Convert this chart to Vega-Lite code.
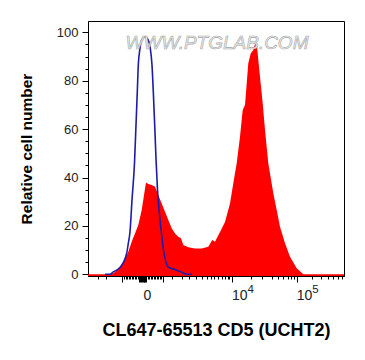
{
  "$schema": "https://vega.github.io/schema/vega-lite/v6.json",
  "width": 256,
  "height": 255,
  "autosize": "none",
  "padding": {"left": 88, "top": 21, "right": 21, "bottom": 84},
  "background": "white",
  "config": {
    "view": {"stroke": "#000000", "strokeWidth": 1},
    "font": "Liberation Sans"
  },
  "datasets": {
    "cd5": [
      {"channel": 0, "count": 0}, {"channel": 20.3, "count": 0}, {"channel": 25.3, "count": 0.4},
      {"channel": 30.3, "count": 2.1}, {"channel": 33.7, "count": 3.8}, {"channel": 37, "count": 6.2},
      {"channel": 40.3, "count": 9.3}, {"channel": 43.7, "count": 13.5}, {"channel": 47, "count": 16.9},
      {"channel": 50.3, "count": 20.4}, {"channel": 53.7, "count": 26.6}, {"channel": 56.3, "count": 33.5},
      {"channel": 58, "count": 37.9}, {"channel": 60.3, "count": 37.3}, {"channel": 63.7, "count": 36.9},
      {"channel": 67, "count": 36.2}, {"channel": 70.3, "count": 32.8}, {"channel": 73.7, "count": 29.3},
      {"channel": 77, "count": 25.9}, {"channel": 80.3, "count": 22.4}, {"channel": 83.7, "count": 19},
      {"channel": 87, "count": 16.9}, {"channel": 90.3, "count": 15.5}, {"channel": 93, "count": 14.9},
      {"channel": 95.3, "count": 12.1}, {"channel": 100.3, "count": 11.2}, {"channel": 107, "count": 10.7},
      {"channel": 113.7, "count": 10.7}, {"channel": 120.3, "count": 11.4}, {"channel": 124.3, "count": 14.2},
      {"channel": 127, "count": 13.5}, {"channel": 132, "count": 17.5}, {"channel": 137, "count": 21.6},
      {"channel": 142, "count": 29.3}, {"channel": 145.3, "count": 37.6}, {"channel": 148.7, "count": 45.9},
      {"channel": 152, "count": 56.9}, {"channel": 154.7, "count": 67.9}, {"channel": 157, "count": 70},
      {"channel": 158.7, "count": 78.9}, {"channel": 160.3, "count": 87.2}, {"channel": 162.7, "count": 91.3},
      {"channel": 165.3, "count": 92.7}, {"channel": 167, "count": 95.2}, {"channel": 168, "count": 95.5},
      {"channel": 169, "count": 94.3}, {"channel": 170.3, "count": 88.6}, {"channel": 172, "count": 81.7},
      {"channel": 174.7, "count": 70.7}, {"channel": 177, "count": 59.6}, {"channel": 180.3, "count": 45.9},
      {"channel": 185.3, "count": 33.5}, {"channel": 188.7, "count": 26.6}, {"channel": 192, "count": 19.7},
      {"channel": 197, "count": 12.8}, {"channel": 202, "count": 7.3}, {"channel": 208.7, "count": 2.5},
      {"channel": 215.3, "count": 0}, {"channel": 256, "count": 0}
    ],
    "ctrl": [
      {"channel": 17, "count": 0}, {"channel": 22, "count": 0}, {"channel": 25.3, "count": 1},
      {"channel": 32, "count": 2.8}, {"channel": 38.7, "count": 8.7}, {"channel": 40.3, "count": 12.8},
      {"channel": 42, "count": 17.6}, {"channel": 44, "count": 30.7}, {"channel": 46.5, "count": 46},
      {"channel": 48, "count": 61.7}, {"channel": 49.3, "count": 75.5}, {"channel": 50.3, "count": 86.5},
      {"channel": 52, "count": 93.4}, {"channel": 53.7, "count": 96.8}, {"channel": 57, "count": 98.2},
      {"channel": 60.3, "count": 96.8}, {"channel": 62.3, "count": 93.4}, {"channel": 64, "count": 86.5},
      {"channel": 65.3, "count": 75.5}, {"channel": 66.7, "count": 61.7}, {"channel": 68, "count": 47.9},
      {"channel": 69.5, "count": 34.8}, {"channel": 71.5, "count": 24.5}, {"channel": 73.7, "count": 16.2},
      {"channel": 75.5, "count": 10}, {"channel": 77, "count": 6.7}, {"channel": 79, "count": 3.8},
      {"channel": 81, "count": 2.8}, {"channel": 87, "count": 2}, {"channel": 93, "count": 1},
      {"channel": 98, "count": 0.1}, {"channel": 104, "count": 0}
    ],
    "wm": [{"channel": 129, "count": 95.6, "text": "WWW.PTGLAB.COM"}]
  },
  "encoding": {
    "y": {
      "field": "count", "type": "quantitative",
      "scale": {"domain": [-0.7, 104.7], "nice": false, "zero": false},
      "axis": {
        "values": [0, 5, 10, 15, 20, 25, 30, 35, 40, 45, 50, 55, 60, 65, 70, 75, 80, 85, 90, 95, 100],
        "labelExpr": "datum.value % 20 == 0 ? datum.label : ''",
        "labelFontSize": 13,
        "labelColor": "#222222",
        "labelPadding": 4,
        "tickColor": "#000000",
        "tickSize": {"condition": {"test": "datum.value % 20 == 0", "value": 6}, "value": 3},
        "domainColor": "#000000",
        "grid": false,
        "title": "Relative cell number",
        "titleFontSize": 15.5,
        "titleFontWeight": "bold",
        "titleColor": "#000000",
        "titlePadding": 22
      }
    }
  },
  "resolve": {"axis": {"x": "independent"}},
  "layer": [
    {
      "data": {"name": "cd5"},
      "mark": {"type": "area", "color": "#ff0000", "interpolate": "linear", "clip": true},
      "encoding": {
        "x": {
          "field": "channel", "type": "quantitative",
          "scale": {"domain": [0, 256], "nice": false, "zero": false},
          "axis": {
            "orient": "bottom",
            "values": [10.3, 18, 33.7, 36, 37.5, 39, 40.5, 42, 43.5, 45, 46.5, 48, 49.5, 50.5, 51.5, 52.5, 53.5, 54.5, 55.5, 56, 57, 58, 59.5, 61, 62.5, 64, 65.5, 67, 68.5, 70, 71.5, 73, 75, 84, 93.7, 101, 108, 113.7, 118.7, 123, 126, 129.7, 133.7, 137, 139.7, 141.3, 144.4, 162.7, 173.7, 183.7, 190.3, 195.3, 199.7, 203, 206.3, 209.3, 223.7, 233, 240, 245, 249.7, 253.7],
            "labelExpr": "datum.value == 56 ? '0' : datum.value == 144.4 ? '10' : datum.value == 209.3 ? '10' : ''",
            "labelAlign": "left",
            "labelOffset": -1,
            "labelFontSize": 14,
            "labelColor": "#222222",
            "labelPadding": 6,
            "labelOverlap": false,
            "labelFlush": false,
            "tickColor": "#000000",
            "tickSize": {"condition": {"test": "(datum.value >= 50 && datum.value <= 58) || datum.value == 33.7 || datum.value == 75 || datum.value == 144.4 || datum.value == 209.3", "value": 6}, "value": 3},
            "domainColor": "#000000",
            "grid": false,
            "title": "CL647-65513 CD5 (UCHT2)",
            "titleFontSize": 18,
            "titleFontWeight": "bold",
            "titleColor": "#000000",
            "titlePadding": 19
          }
        },
        "y2": {"datum": -0.7}
      }
    },
    {
      "data": {"name": "ctrl"},
      "mark": {"type": "line", "color": "#1c1ca8", "strokeWidth": 1.6, "interpolate": "monotone", "clip": true},
      "encoding": {
        "x": {
          "field": "channel", "type": "quantitative",
          "scale": {"domain": [0, 256], "nice": false, "zero": false},
          "axis": {
            "orient": "bottom",
            "values": [144.4, 209.3],
            "labelExpr": "datum.value == 144.4 ? '4' : '5'",
            "labelAlign": "left",
            "labelOffset": 14.5,
            "labelFontSize": 11.5,
            "labelColor": "#222222",
            "labelPadding": 7,
            "labelOverlap": false,
            "labelFlush": false,
            "ticks": false,
            "tickSize": 0,
            "domain": false,
            "grid": false,
            "title": null
          }
        }
      }
    },
    {
      "data": {"name": "wm"},
      "mark": {"type": "text", "font": "Liberation Sans", "fontSize": 19, "fontStyle": "italic", "fill": "#ededed", "stroke": "#a8a8a8", "strokeWidth": 0.6, "align": "center", "baseline": "middle"},
      "encoding": {
        "x": {"field": "channel", "type": "quantitative", "axis": null},
        "text": {"field": "text"}
      }
    }
  ]
}
